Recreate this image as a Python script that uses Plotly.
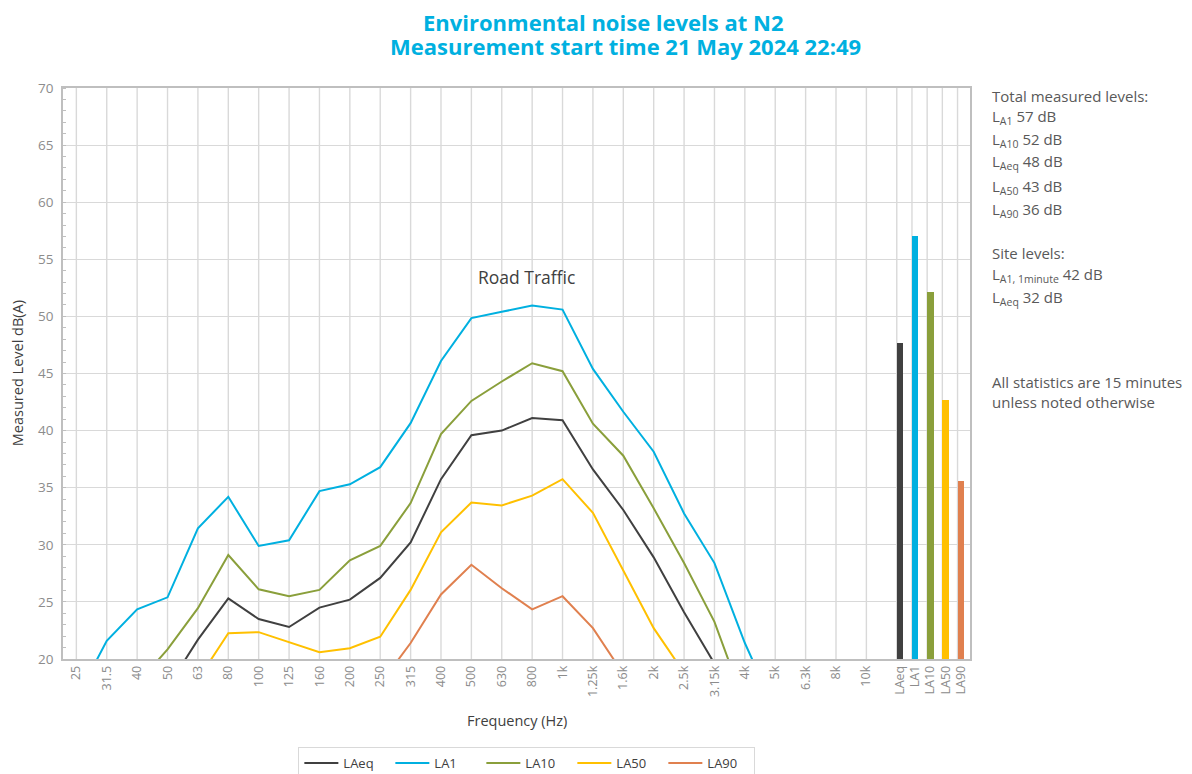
import plotly.graph_objects as go

# ---------------- data ----------------
freq_labels = ["25", "31.5", "40", "50", "63", "80", "100", "125", "160", "200", "250",
               "315", "400", "500", "630", "800", "1k", "1.25k", "1.6k", "2k", "2.5k",
               "3.15k", "4k", "5k", "6.3k", "8k", "10k"]

LAeq = [None, None, None, 17.5, 21.7, 25.3, 23.5, 22.8, 24.5, 25.2, 27.1,
        30.2, 35.75, 39.6, 40.0, 41.1, 40.9, 36.6, 33.05, 28.9, 24.1,
        19.6, None, None, None, None, None]
LA1 = [16.5, 21.6, 24.35, 25.4, 31.45, 34.2, 29.9, 30.4, 34.7, 35.3, 36.8,
       40.65, 46.1, 49.85, 50.4, 50.95, 50.6, 45.4, 41.65, 38.15, 32.75,
       28.4, 21.4, 15.5, None, None, None]
LA10 = [None, None, 17.8, 20.85, 24.45, 29.1, 26.1, 25.5, 26.05, 28.65, 29.9,
        33.65, 39.7, 42.6, 44.3, 45.9, 45.2, 40.6, 37.8, 33.2, 28.4,
        23.25, 16.0, None, None, None, None]
LA50 = [None, None, None, None, 18.2, 22.25, 22.35, 21.45, 20.6, 20.95, 21.95,
        26.05, 31.1, 33.7, 33.45, 34.3, 35.75, 32.8, 27.8, 22.7, 18.8,
        None, None, None, None, None, None]
LA90 = [None, None, None, None, None, None, None, None, None, None, 17.8,
        21.4, 25.65, 28.25, 26.2, 24.35, 25.5, 22.7, 18.7, None, None,
        None, None, None, None, None, None]

series_names = ["LAeq", "LA1", "LA10", "LA50", "LA90"]
series_values = [LAeq, LA1, LA10, LA50, LA90]
total_levels = [47.7, 57.0, 52.1, 42.7, 35.6]   # overall bars, same order as series_names

y_ticks = [20, 25, 30, 35, 40, 45, 50, 55, 60, 65, 70]

# ---------------- styling ----------------
colors = ["#404040", "#00B0E0", "#8A9F3B", "#FFC000", "#E0804F"]
grid_col = "#D9D9D9"
axis_col = "#BFBFBF"
tick_col = "#8C8C8C"
text_col = "#595959"
FONT = "Open Sans"

# page offset (browser body margin) compensation
OFF = 8
W, H = 1192 - OFF, 774 - OFF
PL, PR, PT, PB = 63.3, 970, 88, 659          # plot area in page pixels
ML, MT = PL - OFF, PT - OFF
MR, MB = W - (PR - OFF), H - (PB - OFF)

n = len(freq_labels)
freq_x = list(range(n))
slot0 = n
slot_w = 0.5
bar_w = 0.21
bar_edges = [slot0 + slot_w * k for k in range(len(series_names))]
bar_x = [e + bar_w / 2 for e in bar_edges]

fig = go.Figure()

for name, vals, col in zip(series_names, series_values, colors):
    fig.add_trace(go.Scatter(x=freq_x, y=vals, mode="lines", name=name,
                             line=dict(color=col, width=2), connectgaps=False))

fig.add_trace(go.Bar(x=bar_x, y=total_levels, width=bar_w,
                     marker=dict(color=colors, line=dict(width=0)),
                     showlegend=False))

shapes = []
for gx in freq_x + bar_edges:
    shapes.append(dict(type="line", xref="x", yref="paper", x0=gx, x1=gx, y0=0, y1=1,
                       line=dict(color=grid_col, width=1.4), layer="below"))

ph = PB - PT
pw = PR - PL

def py(ypx):
    return (PB - ypx) / ph

def px(xpx):
    return (xpx - PL) / pw

fig.update_layout(
    width=W, height=H,
    margin=dict(l=ML, r=MR, t=MT, b=MB, autoexpand=False),
    paper_bgcolor="white", plot_bgcolor="white",
    font=dict(family=FONT, color=text_col, size=14),
    shapes=shapes,
    showlegend=True,
    legend=dict(orientation="h", x=px(527), xanchor="center", y=py(747), yanchor="top",
                bordercolor=grid_col, borderwidth=1, font=dict(size=13, color="#404040"),
                entrywidth=42, entrywidthmode="pixels", itemwidth=34,
                tracegroupgap=0),
    bargap=0,
)

fig.update_xaxes(
    range=[-0.44, 29.41],
    tickmode="array",
    tickvals=freq_x + bar_x,
    ticktext=freq_labels + series_names,
    tickangle=-90,
    tickfont=dict(size=12.5, color=tick_col, family=FONT),
    showgrid=False, zeroline=False, ticks="",
    showline=True, linecolor=axis_col, linewidth=1.5, mirror=True,
)
fig.update_yaxes(
    range=[20, 70],
    tickmode="array", tickvals=y_ticks,
    tickfont=dict(size=13.5, color=tick_col, family=FONT),
    ticklabelstandoff=5,
    showgrid=True, gridcolor=grid_col, gridwidth=1.4,
    zeroline=False, ticks="",
    showline=True, linecolor=axis_col, linewidth=1.5, mirror=True,
    minor=dict(dtick=1, ticks="inside", ticklen=3, tickcolor=axis_col, showgrid=False),
)

ann = []
title_col = "#00B0E0"
ann.append(dict(text="<b>Environmental noise levels at N2</b>", x=px(603), y=py(22),
                xref="paper", yref="paper", showarrow=False, xanchor="center", yanchor="middle",
                font=dict(size=22, color=title_col, family=FONT)))
ann.append(dict(text="<b>Measurement start time 21 May 2024 22:49</b>", x=px(626), y=py(46),
                xref="paper", yref="paper", showarrow=False, xanchor="center", yanchor="middle",
                font=dict(size=22, color=title_col, family=FONT)))
ann.append(dict(text="Measured Level dB(A)", x=px(18), y=0.5, xref="paper", yref="paper",
                textangle=-90, showarrow=False, xanchor="center", yanchor="middle",
                font=dict(size=14.5, color="#404040", family=FONT)))
ann.append(dict(text="Frequency (Hz)", x=px(517), y=py(720), xref="paper", yref="paper",
                showarrow=False, xanchor="center", yanchor="middle",
                font=dict(size=14.5, color="#404040", family=FONT)))
ann.append(dict(text="Road Traffic", x=(527 - 76.7) / 30.38, y=20 + (659 - 277) / 11.42,
                xref="x", yref="y", showarrow=False, xanchor="center", yanchor="middle",
                font=dict(size=17.5, color="#404040", family=FONT)))

side_lines = [
    ("Total measured levels:", 96),
    ("L<sub>A1</sub> 57 dB", 117),
    ("L<sub>A10</sub> 52 dB", 140),
    ("L<sub>Aeq</sub> 48 dB", 162),
    ("L<sub>A50</sub> 43 dB", 187),
    ("L<sub>A90</sub> 36 dB", 210),
    ("Site levels:", 253),
    ("L<sub>A1, 1minute</sub> 42 dB", 275),
    ("L<sub>Aeq</sub> 32 dB", 298),
    ("All statistics are 15 minutes", 382),
    ("unless noted otherwise", 402),
]
for txt, ypx in side_lines:
    ann.append(dict(text=txt, x=px(990), y=py(ypx), xref="paper", yref="paper",
                    showarrow=False, xanchor="left", yanchor="middle", align="left",
                    font=dict(size=15, color=text_col, family=FONT)))

fig.update_layout(annotations=ann)

fig.write_html("out.html")
